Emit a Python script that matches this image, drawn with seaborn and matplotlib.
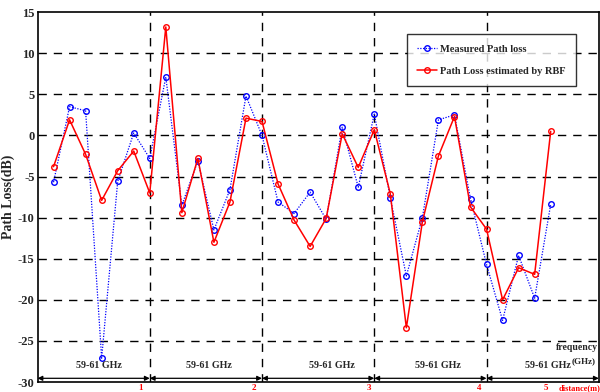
import numpy as np
import pandas as pd
import matplotlib
matplotlib.use("Agg")
import matplotlib.pyplot as plt
import seaborn as sns

# ---- data ----
distance = np.arange(1, 33) / 7.0
measured = [-5.7, 3.5, 3.0, -27.1, -5.6, 0.3, -2.8,
            7.1, -8.5, -3.1, -11.5, -6.6, 4.8, 0.0,
            -8.1, -9.5, -6.9, -10.2, 1.0, -6.3, 2.6,
            -7.6, -17.1, -10.0, 1.9, 2.5, -7.7, -15.7,
            -22.5, -14.6, -19.8, -8.4]
rbf = [-3.8, 1.9, -2.3, -7.9, -4.3, -1.9, -7.0,
       13.2, -9.4, -2.8, -13.0, -8.1, 2.1, 1.7,
       -5.9, -10.3, -13.5, -10.1, 0.2, -3.9, 0.7,
       -7.1, -23.4, -10.5, -2.5, 2.3, -8.7, -11.4,
       -20.0, -16.1, -16.9, 0.5]
band_labels = ["59-61 GHz"] * 5
band_pos = [0.55, 1.53, 2.62, 3.57, 4.55]
xtick_vals = ["1", "2", "3", "4", "5"]
xtick_pos = [0.92, 1.93, 2.95, 3.93, 4.53]

sns.set_style("white")
plt.rcParams['font.family'] = ['Liberation Serif', 'DejaVu Serif']
plt.rcParams['font.weight'] = 'bold'

fig = plt.figure(figsize=(6.0, 3.92), dpi=100)
ax = fig.add_axes([0.0625, 0.0255, 0.9355, 0.9435])

sns.lineplot(x=distance, y=measured, ax=ax, color="blue", lw=0.9, linestyle=(0, (1, 1.2)),
             marker="o", markersize=4, markerfacecolor="none", markeredgecolor="blue",
             markeredgewidth=1.0, label="Measured Path loss", zorder=3)
sns.lineplot(x=distance, y=rbf, ax=ax, color="red", lw=1.1,
             marker="o", markersize=4, markerfacecolor="none", markeredgecolor="red",
             markeredgewidth=1.0, label="Path Loss estimated by RBF", zorder=4)

ax.set_xlim(0, 5)
ax.set_ylim(-30, 15)
ax.set_yticks(np.arange(-30, 16, 5))
ax.set_yticklabels([str(v) for v in range(-30, 16, 5)], fontsize=9, fontweight='bold')
ax.set_xticks([])
ax.tick_params(axis='y', direction='in', length=3, pad=2)

for yv in range(-25, 15, 5):
    ax.axhline(yv, color='black', lw=1.0, linestyle=(0, (6, 5)), zorder=1)
for xv in [1, 2, 3, 4]:
    ax.axvline(xv, color='black', lw=1.0, linestyle=(0, (6, 5)), zorder=1)

for s in ax.spines.values():
    s.set_color('black')
    s.set_linewidth(1.2)

ax.set_xlabel("")
ax.set_ylabel("Path Loss(dB)", fontsize=10, fontweight='bold', labelpad=2)

# arrows
for a in range(5):
    ax.annotate('', xy=(a + 1, -29.55), xytext=(a, -29.55),
                arrowprops=dict(arrowstyle='<|-|>', color='black', lw=0.9,
                                mutation_scale=7, shrinkA=0, shrinkB=0))
for lbl, xp in zip(band_labels, band_pos):
    ax.text(xp, -28.0, lbl, ha='center', va='center', fontsize=7.2, fontweight='bold')
ax.text(4.755, -27.5, "(GHz)", ha='left', va='center', fontsize=6.5, fontweight='bold')
ax.text(4.995, -25.8, "frequency", ha='right', va='center', fontsize=7, fontweight='bold')

for t, xp in zip(xtick_vals, xtick_pos):
    ax.text(xp, -30.25, t, ha='center', va='top', color='red', fontsize=6.5, fontweight='bold',
            clip_on=False)
ax.text(4.64, -30.25, "distance(m)", ha='left', va='top', color='red', fontsize=6,
        fontweight='bold', clip_on=False)

leg = ax.legend(loc='upper left', bbox_to_anchor=(0.658, 0.9405), borderaxespad=0,
                fontsize=7.5, frameon=True, fancybox=False, edgecolor='black',
                handlelength=1.9, borderpad=1.0, labelspacing=1.2, handletextpad=0.3)
leg.get_frame().set_linewidth(1.0)
for t in leg.get_texts():
    t.set_fontweight('bold')

fig.savefig("out.png", dpi=100)
